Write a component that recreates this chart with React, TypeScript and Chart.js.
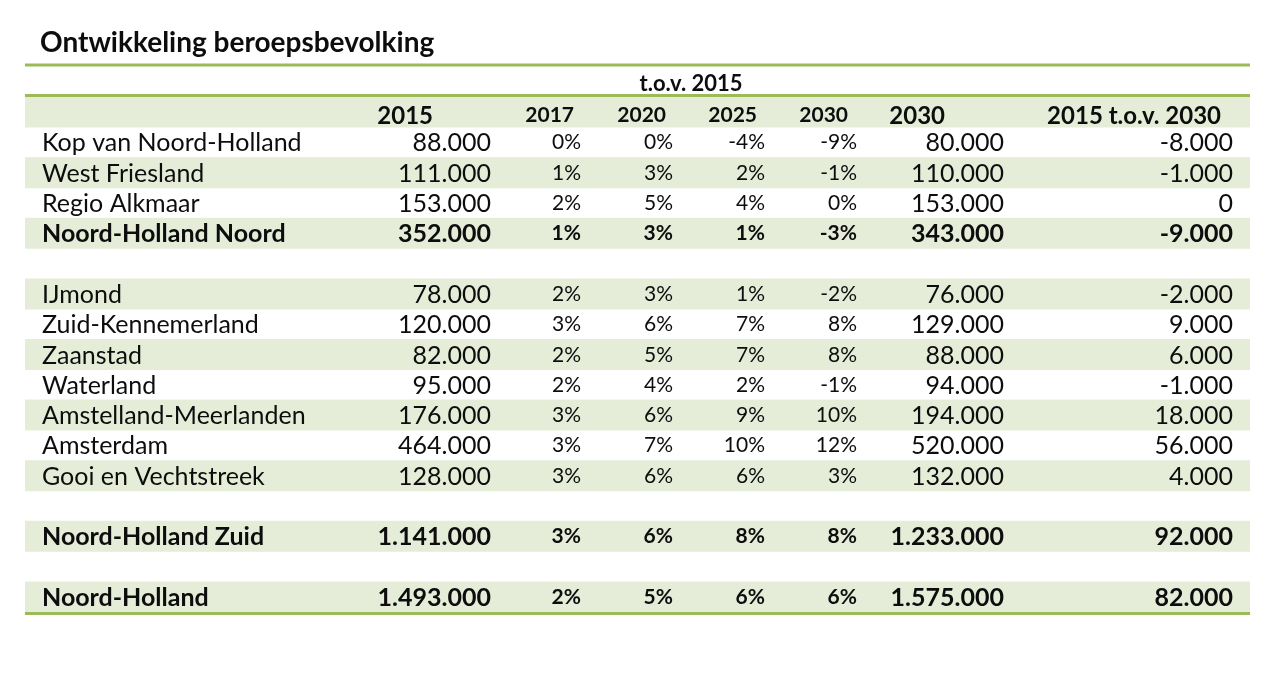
import React, { useEffect, useRef } from "react";
import { Chart, registerables } from "chart.js";

Chart.register(...registerables);

// ---------- data ----------
const title = "Ontwikkeling beroepsbevolking";
const groupHeader = "t.o.v. 2015";
const columnHeaders = ["2015", "2017", "2020", "2025", "2030", "2030", "2015 t.o.v. 2030"];

const regions = [
  "Kop van Noord-Holland",
  "West Friesland",
  "Regio Alkmaar",
  "Noord-Holland Noord",
  "",
  "IJmond",
  "Zuid-Kennemerland",
  "Zaanstad",
  "Waterland",
  "Amstelland-Meerlanden",
  "Amsterdam",
  "Gooi en Vechtstreek",
  "",
  "Noord-Holland Zuid",
  "",
  "Noord-Holland",
];
const boldRegions = ["Noord-Holland Noord", "Noord-Holland Zuid", "Noord-Holland"];

const pop2015 = [88000, 111000, 153000, 352000, null, 78000, 120000, 82000, 95000, 176000, 464000, 128000, null, 1141000, null, 1493000];
const pct2017 = [0, 1, 2, 1, null, 2, 3, 2, 2, 3, 3, 3, null, 3, null, 2];
const pct2020 = [0, 3, 5, 3, null, 3, 6, 5, 4, 6, 7, 6, null, 6, null, 5];
const pct2025 = [-4, 2, 4, 1, null, 1, 7, 7, 2, 9, 10, 6, null, 8, null, 6];
const pct2030 = [-9, -1, 0, -3, null, -2, 8, 8, -1, 10, 12, 3, null, 8, null, 6];
const pop2030 = [80000, 110000, 153000, 343000, null, 76000, 129000, 88000, 94000, 194000, 520000, 132000, null, 1233000, null, 1575000];
const diff2015to2030 = [-8000, -1000, 0, -9000, null, -2000, 9000, 6000, -1000, 18000, 56000, 4000, null, 92000, null, 82000];

// ---------- layout / style ----------
const X_MIN = 25;
const X_MAX = 1250;
const LABEL_X = 42;
const VALUE_RIGHT = [491, 581, 673, 765, 857, 1004, 1233];
const HEADER_RIGHT = [433, 574, 666, 757, 848, 945, 1221];
const PCT_COLS = [1, 2, 3, 4];
const BIG_HEADER_COLS = [0, 5, 6];
const GROUP_CENTER = 691;

const FONT = "Lato, 'Open Sans', sans-serif";
const GREEN_LINE = "#9bbb59";
const STRIPE = "#e5edd8";
const TEXT = "#0d0d0d";

function fmtInt(n: number): string {
  const s = Math.abs(n).toString().replace(/\B(?=(\d{3})+(?!\d))/g, ".");
  return (n < 0 ? "-" : "") + s;
}
function fmtPct(n: number): string {
  return `${n}%`;
}

const columns: (number | null)[][] = [pop2015, pct2017, pct2020, pct2025, pct2030, pop2030, diff2015to2030];

const rowLabels = ["", ...regions];

const tablePlugin = {
  id: "tableText",
  afterDatasetsDraw(chart: any) {
    const { ctx, chartArea, scales } = chart;
    const xs = scales.x;
    const ys = scales.y;
    const top = chartArea.top;
    const px = (v: number) => xs.getPixelForValue(v);

    ctx.save();
    // title
    ctx.fillStyle = TEXT;
    ctx.textBaseline = "alphabetic";
    ctx.textAlign = "left";
    ctx.font = `bold 28px ${FONT}`;
    ctx.fillText(title, 40, 52);

    // lines
    ctx.strokeStyle = GREEN_LINE;
    ctx.lineWidth = 3;
    const hline = (yy: number) => {
      ctx.beginPath();
      ctx.moveTo(px(X_MIN), yy);
      ctx.lineTo(px(X_MAX), yy);
      ctx.stroke();
    };
    hline(top - 32);
    hline(top - 1.5);
    hline(chartArea.bottom + 1.5);

    // group header
    ctx.font = `bold 22px ${FONT}`;
    ctx.textAlign = "center";
    ctx.fillText(groupHeader, px(GROUP_CENTER), top - 6);

    // column headers
    const hy = ys.getPixelForValue(0);
    columnHeaders.forEach((h, c) => {
      const big = BIG_HEADER_COLS.includes(c);
      ctx.font = big ? `bold 24px ${FONT}` : `bold 21px ${FONT}`;
      ctx.textAlign = "right";
      ctx.fillText(h, px(HEADER_RIGHT[c]), hy + (big ? 12 : 10));
    });

    // rows
    regions.forEach((name, r) => {
      if (!name) return;
      const yc = ys.getPixelForValue(r + 1);
      const bold = boldRegions.includes(name);
      ctx.textAlign = "left";
      ctx.font = `${bold ? "bold " : ""}25px ${FONT}`;
      ctx.fillText(name, px(LABEL_X), yc + 9);
      columns.forEach((col, c) => {
        const v = col[r];
        if (v === null || v === undefined) return;
        const isPct = PCT_COLS.includes(c);
        ctx.textAlign = "right";
        ctx.font = `${bold ? "bold " : ""}${isPct ? 21 : 25}px ${FONT}`;
        ctx.fillText(isPct ? fmtPct(v) : fmtInt(v), px(VALUE_RIGHT[c]), yc + (isPct ? 7 : 9));
      });
    });
    ctx.restore();
  },
};

export default function App() {
  const ref = useRef<HTMLCanvasElement | null>(null);
  useEffect(() => {
    document.body.style.margin = "0";
    const canvas = ref.current;
    if (!canvas) return;
    const chart = new Chart(canvas, {
      type: "bar",
      data: {
        labels: rowLabels,
        datasets: [
          {
            label: "stripes",
            data: rowLabels.map((_, i) => (i % 2 === 0 ? [X_MIN, X_MAX] : null)) as any,
            backgroundColor: STRIPE,
            borderWidth: 0,
            barPercentage: 1,
            categoryPercentage: 1,
          },
        ],
      },
      options: {
        indexAxis: "y",
        responsive: false,
        animation: false,
        events: [],
        layout: { padding: { left: 25, right: 30, top: 97, bottom: 64 } },
        scales: {
          x: { type: "linear", min: X_MIN, max: X_MAX, display: false },
          y: { type: "category", display: false, offset: true },
        },
        plugins: {
          legend: { display: false },
          tooltip: { enabled: false },
          title: { display: false },
        },
      },
      plugins: [tablePlugin],
    });
    return () => chart.destroy();
  }, []);
  return (
    <div style={{ width: 1280, height: 676, background: "#ffffff" }}>
      <canvas ref={ref} width={1280} height={676} style={{ display: "block" }} />
    </div>
  );
}
